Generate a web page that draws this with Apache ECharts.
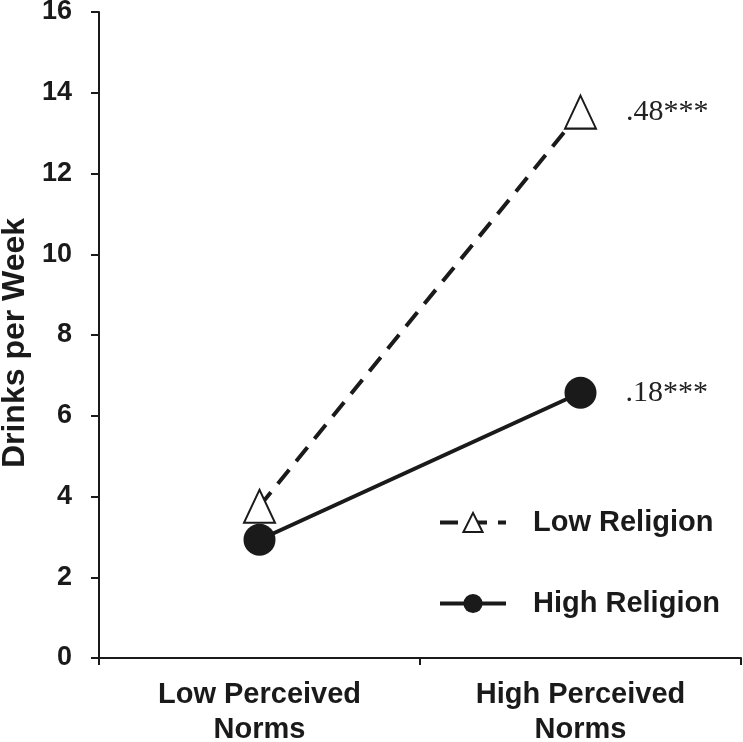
<!DOCTYPE html>
<html><head><meta charset="utf-8">
<script src="https://cdn.jsdelivr.net/npm/echarts@6/dist/echarts.min.js"></script>
<style>html,body{margin:0;padding:0;background:#fff}#c{width:743px;height:742px}</style>
</head><body><div id="c"></div>
<script>
const categories = ['Low Perceived\nNorms', 'High Perceived\nNorms'];
const lowReligion = [3.76, 13.52];
const highReligion = [2.93, 6.57];
const slopeLabels = ['.48***', '.18***'];
const yTicks = {min: 0, max: 16, interval: 2};

const chart = echarts.init(document.getElementById('c'));
const ink = '#1a1a1a';
const sans = 'Liberation Sans, Arial';
function withSlope(vals, label) {
  return vals.map((v, i) => i === vals.length - 1 ? {value: v, label: {show: true, formatter: label}} : v);
}
chart.setOption({
  animation: false,
  grid: {left: 99, right: 2, top: 12, bottom: 84, containLabel: false, outerBoundsMode: 'none'},
  xAxis: {
    type: 'category', data: categories, boundaryGap: true,
    axisLine: {lineStyle: {color: ink, width: 2}},
    axisTick: {show: true, length: 7, lineStyle: {color: ink, width: 2}},
    axisLabel: {color: ink, fontSize: 29, fontWeight: 'bold', fontFamily: sans, lineHeight: 35, margin: 19}
  },
  yAxis: {
    type: 'value', min: yTicks.min, max: yTicks.max, interval: yTicks.interval,
    name: 'Drinks per Week', nameLocation: 'middle', nameGap: 67,
    nameTextStyle: {color: ink, fontSize: 32, fontWeight: 'bold', fontFamily: sans, padding: [0, 16, 0, 0]},
    axisLine: {show: true, lineStyle: {color: ink, width: 2}},
    axisTick: {show: true, length: 8, lineStyle: {color: ink, width: 2}},
    splitLine: {show: false},
    axisLabel: {color: ink, fontSize: 27, fontWeight: 'bold', fontFamily: sans, margin: 27}
  },
  legend: {
    orient: 'vertical', left: 433, top: 503, itemGap: 52, itemWidth: 66, itemHeight: 24,
    lineStyle: {width: 4},
    textStyle: {color: ink, fontSize: 29, fontWeight: 'bold', fontFamily: sans, padding: [0, 0, 0, 22]},
    data: ['Low Religion', 'High Religion']
  },
  series: [
    {
      name: 'Low Religion', type: 'line', data: withSlope(lowReligion, slopeLabels[0]),
      symbol: 'triangle', symbolSize: [31, 33],
      lineStyle: {color: ink, width: 4, type: [18, 11]},
      itemStyle: {color: '#fff', borderColor: ink, borderWidth: 2},
      label: {show: false, position: 'right', distance: 29, color: '#222', fontSize: 30, fontFamily: 'Liberation Serif, Times New Roman'},
      z: 2
    },
    {
      name: 'High Religion', type: 'line', data: withSlope(highReligion, slopeLabels[1]),
      symbol: 'circle', symbolSize: 32,
      lineStyle: {color: ink, width: 4},
      itemStyle: {color: ink, borderColor: ink, borderWidth: 0},
      label: {show: false, position: 'right', distance: 29, color: '#222', fontSize: 30, fontFamily: 'Liberation Serif, Times New Roman'},
      z: 3
    }
  ]
});
</script></body></html>
